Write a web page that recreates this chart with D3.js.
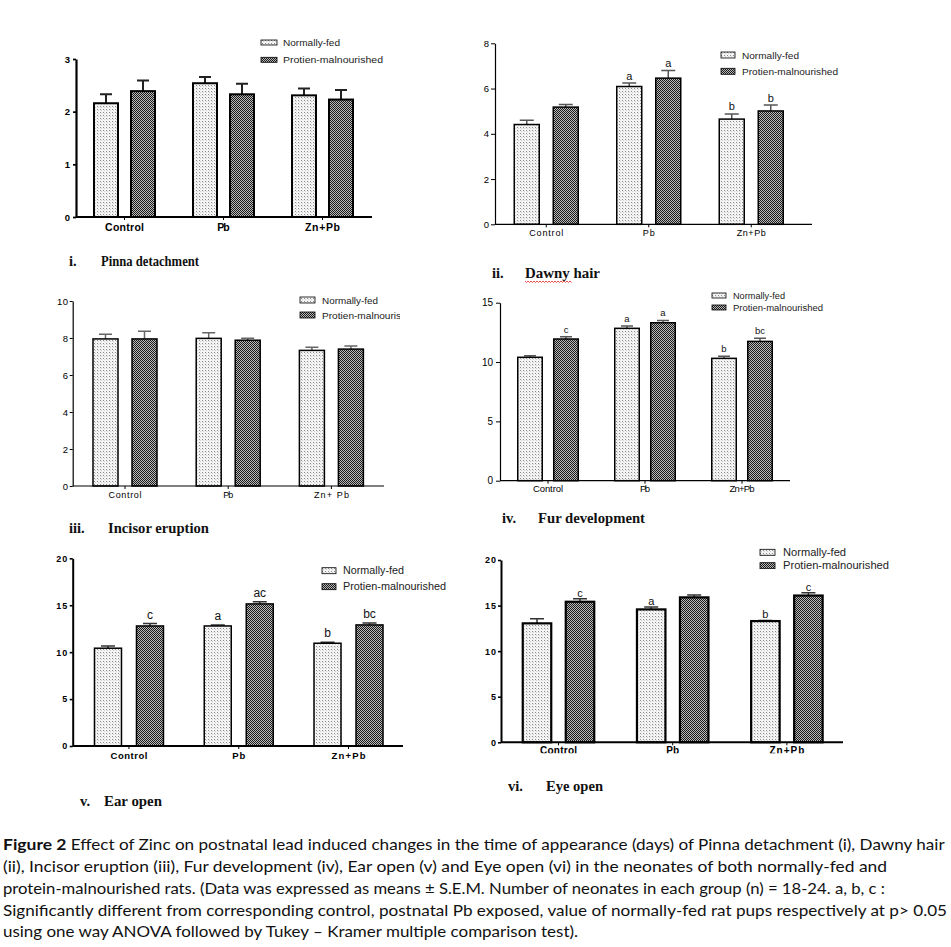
<!DOCTYPE html>
<html><head><meta charset="utf-8">
<script src="https://cdn.jsdelivr.net/npm/d3@7"></script>
<style>body{margin:0;background:#fff}svg{display:block}</style>
</head><body>
<script>
// ---------------- DATA ----------------
const categories = ["Control", "Pb", "Zn+Pb"];
const seriesNames = ["Normally-fed", "Protien-malnourished"];

// i. Pinna detachment
const pinnaNF = [2.16, 2.54, 2.31], pinnaNFErr = [0.17, 0.12, 0.13];
const pinnaPM = [2.39, 2.33, 2.23], pinnaPMErr = [0.20, 0.20, 0.18];
const pinnaTicks = [0, 1, 2, 3];

// ii. Dawny hair
const dawnyNF = [4.41, 6.09, 4.65], dawnyNFErr = [0.19, 0.15, 0.23];
const dawnyPM = [5.18, 6.46, 5.01], dawnyPMErr = [0.11, 0.34, 0.26];
const dawnyNFLetters = ["", "a", "b"], dawnyPMLetters = ["", "a", "b"];
const dawnyTicks = [0, 2, 4, 6, 8];

// iii. Incisor eruption
const incisorNF = [7.95, 7.98, 7.33], incisorNFErr = [0.25, 0.31, 0.17];
const incisorPM = [7.95, 7.88, 7.40], incisorPMErr = [0.41, 0.10, 0.17];
const incisorTicks = [0, 2, 4, 6, 8, 10];
const incisorCatLabels = ["Control", "Pb", "Zn+ Pb"];

// iv. Fur development
const furNF = [10.40, 12.84, 10.31], furNFErr = [0.13, 0.19, 0.17];
const furPM = [11.94, 13.31, 11.74], furPMErr = [0.19, 0.20, 0.26];
const furNFLetters = ["", "a", "b"], furPMLetters = ["c", "a", "bc"];
const furTicks = [0, 5, 10, 15];

// v. Ear open
const earNF = [10.42, 12.79, 10.95], earNFErr = [0.24, 0.11, 0.10];
const earPM = [12.79, 15.14, 12.90], earPMErr = [0.25, 0.24, 0.20];
const earNFLetters = ["", "a", "b"], earPMLetters = ["c", "ac", "bc"];
const earTicks = [0, 5, 10, 15, 20];

// vi. Eye open
const eyeNF = [13.05, 14.58, 13.30], eyeNFErr = [0.50, 0.25, 0.07];
const eyePM = [15.42, 15.90, 16.10], eyePMErr = [0.33, 0.25, 0.30];
const eyeNFLetters = ["", "a", "b"], eyePMLetters = ["c", "", "c"];
const eyeTicks = [0, 5, 10, 15, 20];

const captionLead = "Figure 2";
const captionLines = [
  " Effect of Zinc on postnatal lead induced changes in the time of appearance (days) of Pinna detachment (i), Dawny hair",
  "(ii), Incisor eruption (iii), Fur development (iv), Ear open (v) and Eye open (vi) in the neonates of both normally-fed and",
  "protein-malnourished rats. (Data was expressed as means \u00b1 S.E.M. Number of neonates in each group (n) = 18-24. a, b, c :",
  "Significantly different from corresponding control, postnatal Pb exposed, value of normally-fed rat pups respectively at p> 0.05",
  "using one way ANOVA followed by Tukey \u2013 Kramer multiple comparison test)."
];

// ---------------- LAYOUT ----------------
const FONT = "'Liberation Sans', Arial, sans-serif";
const SERIF = "'Liberation Serif', 'Times New Roman', serif";

const svg = d3.select("body").append("svg").attr("width", 951).attr("height", 947);
const defs = svg.append("defs");

const pNF = defs.append("pattern").attr("id", "nfPat").attr("patternUnits", "userSpaceOnUse").attr("width", 3).attr("height", 3);
pNF.append("rect").attr("width", 3).attr("height", 3).attr("fill", "#f4f4f4");
pNF.append("rect").attr("x", 1).attr("y", 1).attr("width", 1).attr("height", 1).attr("fill", "#8a8a8a");
pNF.append("rect").attr("x", 2).attr("y", 2).attr("width", 1).attr("height", 1).attr("fill", "#cfcfcf");

const pPM = defs.append("pattern").attr("id", "pmPat").attr("patternUnits", "userSpaceOnUse").attr("width", 2).attr("height", 2);
pPM.append("rect").attr("width", 2).attr("height", 2).attr("fill", "#bababa");
pPM.append("rect").attr("x", 0).attr("y", 0).attr("width", 1).attr("height", 1).attr("fill", "#1a1a1a");
pPM.append("rect").attr("x", 1).attr("y", 1).attr("width", 1).attr("height", 1).attr("fill", "#1a1a1a");

function addClip(id, x, y, w, h) {
  defs.append("clipPath").attr("id", id).append("rect").attr("x", x).attr("y", y).attr("width", w).attr("height", h);
  return `url(#${id})`;
}

function panel(cfg) {
  const g = svg.append("g");
  const y = d3.scaleLinear().domain([0, cfg.yMax]).range([cfg.y0, cfg.yTop]);
  const x = d3.scaleBand().domain(categories).range([cfg.gx0, cfg.gx1]).padding(0);
  const s = d3.scalePoint().domain(seriesNames).range([-cfg.off, cfg.off]);
  const rows = categories.flatMap((c, i) => [
    { c, s: seriesNames[0], v: cfg.nf[i], e: cfg.nfErr[i], l: (cfg.nfLet || [])[i] || "", fill: "url(#nfPat)" },
    { c, s: seriesNames[1], v: cfg.pm[i], e: cfg.pmErr[i], l: (cfg.pmLet || [])[i] || "", fill: "url(#pmPat)" }
  ]);
  const cx = d => x(d.c) + x.bandwidth() / 2 + s(d.s);

  // error bars (upper only)
  g.append("g").attr("stroke", cfg.errColor).attr("stroke-width", cfg.errStroke).attr("fill", "none")
    .selectAll("path").data(rows).join("path")
    .attr("d", d => `M${cx(d)},${y(d.v)}V${y(d.v + d.e)}M${cx(d) - cfg.capW / 2},${y(d.v + d.e)}H${cx(d) + cfg.capW / 2}`);

  // bars
  g.append("g").selectAll("rect").data(rows).join("rect")
    .attr("x", d => cx(d) - cfg.barW / 2).attr("y", d => y(d.v))
    .attr("width", cfg.barW).attr("height", d => y(0) - y(d.v))
    .attr("fill", d => d.fill).attr("stroke", "#000").attr("stroke-width", cfg.barStroke);

  // significance letters
  g.append("g").selectAll("text").data(rows.filter(d => d.l)).join("text")
    .attr("x", cx).attr("y", d => y(d.v + d.e) - cfg.letOff)
    .attr("text-anchor", "middle").attr("dominant-baseline", "central")
    .attr("font-family", FONT).attr("font-size", cfg.letFs).attr("fill", "#111").text(d => d.l);

  // y axis
  const ya = g.append("g").attr("transform", `translate(${cfg.ax0},0)`)
    .call(d3.axisLeft(y).tickValues(cfg.ticks).tickFormat(d3.format("d"))
      .tickSize(cfg.tickLen).tickSizeOuter(0).tickPadding(cfg.tickPad));
  ya.attr("font-family", FONT).attr("font-size", cfg.tickFs).attr("font-weight", cfg.bold ? "bold" : "normal");
  ya.select(".domain").attr("stroke", "#000").attr("stroke-width", cfg.axisStroke);
  ya.selectAll(".tick line").attr("stroke", "#000").attr("stroke-width", Math.max(1, cfg.axisStroke * 0.8));
  ya.selectAll(".tick text").attr("fill", "#000").attr("letter-spacing", cfg.tickLs || 0);

  // x axis line
  g.append("line").attr("x1", cfg.ax0).attr("x2", cfg.ax1).attr("y1", y(0)).attr("y2", y(0))
    .attr("stroke", "#000").attr("stroke-width", cfg.axisStroke);

  // x axis ticks + labels (wrapped so that an optional clip is in page coordinates)
  const xwrap = g.append("g");
  if (cfg.catClip) xwrap.attr("clip-path", cfg.catClip);
  const xa = xwrap.append("g").attr("transform", `translate(0,${y(0)})`)
    .call(d3.axisBottom(x).tickSize(3).tickSizeOuter(0));
  xa.attr("font-family", FONT).attr("font-size", cfg.catFs).attr("font-weight", cfg.bold ? "bold" : "normal");
  xa.select(".domain").remove();
  xa.selectAll(".tick line").attr("stroke", "#000").attr("stroke-width", 1);
  xa.selectAll(".tick text")
    .text((d, i) => cfg.catLabels ? cfg.catLabels[i] : d)
    .attr("y", cfg.catY - cfg.y0).attr("dy", null).attr("dominant-baseline", "central")
    .attr("fill", "#000")
    .attr("textLength", (d, i) => cfg.catLen[i]).attr("lengthAdjust", "spacing");

  // legend
  const lg = g.append("g");
  if (cfg.lg.clip) lg.attr("clip-path", cfg.lg.clip);
  seriesNames.forEach((nm, i) => {
    const cy = i ? cfg.lg.y2 : cfg.lg.y1;
    lg.append("rect").attr("x", cfg.lg.x).attr("y", cy - cfg.lg.h / 2)
      .attr("width", cfg.lg.w).attr("height", cfg.lg.h)
      .attr("fill", i ? "url(#pmPat)" : "url(#nfPat)").attr("stroke", "#000").attr("stroke-width", 0.8);
    lg.append("text").attr("x", cfg.lg.tx).attr("y", cy).attr("dominant-baseline", "central")
      .attr("font-family", FONT).attr("font-size", cfg.lg.fs).attr("fill", "#222")
      .attr("textLength", cfg.lg.len[i]).attr("lengthAdjust", "spacingAndGlyphs").text(nm);
  });

  // title
  const t = cfg.title;
  g.append("text").attr("x", t.nx).attr("y", t.base).attr("font-family", SERIF).attr("font-weight", "bold")
    .attr("font-size", 14.5).attr("fill", "#111").text(t.num);
  g.append("text").attr("x", t.tx).attr("y", t.base).attr("font-family", SERIF).attr("font-weight", "bold")
    .attr("font-size", 14.5).attr("fill", "#111")
    .attr("textLength", t.len).attr("lengthAdjust", "spacingAndGlyphs").text(t.text);
  if (t.wavy) {
    const [x0, x1, wy] = t.wavy;
    const pts = d3.range(x0, x1, 1.5).map((px, k) => [px, wy + (k % 2 ? 1 : -0.5)]);
    g.append("path").attr("d", d3.line()(pts)).attr("fill", "none").attr("stroke", "#e02020").attr("stroke-width", 0.8);
  }
}

panel({
  nf: pinnaNF, nfErr: pinnaNFErr, pm: pinnaPM, pmErr: pinnaPMErr,
  yMax: 3, ticks: pinnaTicks, y0: 217, yTop: 59, ax0: 76, ax1: 372, gx0: 75, gx1: 372,
  off: 18.5, barW: 24, capW: 12, barStroke: 2, axisStroke: 2.2, errColor: "#222", errStroke: 2,
  tickFs: 9.5, bold: true, tickLen: 3, tickPad: 3, catY: 227, catFs: 10.5, catLen: [39, 12.5, 35],
  lg: { x: 261, y1: 42.5, y2: 59.8, w: 16, h: 5, tx: 283, fs: 9.5, len: [57, 100] },
  title: { num: "i.", nx: 69, text: "Pinna detachment", tx: 101, base: 266, len: 98 }
});

panel({
  nf: dawnyNF, nfErr: dawnyNFErr, pm: dawnyPM, pmErr: dawnyPMErr, nfLet: dawnyNFLetters, pmLet: dawnyPMLetters,
  yMax: 8, ticks: dawnyTicks, y0: 224.3, yTop: 43.3, ax0: 495, ax1: 812, gx0: 495, gx1: 802.5,
  off: 19.5, barW: 25, capW: 14, barStroke: 1.5, axisStroke: 1.2, errColor: "#555", errStroke: 1.5,
  letFs: 11, letOff: 7.5,
  tickFs: 9.5, bold: false, tickLen: 4, tickPad: 2, catY: 233, catFs: 9, catLen: [34, 12, 29],
  lg: { x: 721, y1: 55, y2: 71.3, w: 14, h: 6, tx: 742, fs: 9.5, len: [57, 96] },
  title: { num: "ii.", nx: 492, text: "Dawny hair", tx: 525, base: 278, len: 75, wavy: [525, 573, 281.5] }
});

panel({
  nf: incisorNF, nfErr: incisorNFErr, pm: incisorPM, pmErr: incisorPMErr,
  yMax: 10, ticks: incisorTicks, y0: 486, yTop: 301, ax0: 72.7, ax1: 384, gx0: 73.4, gx1: 383,
  off: 19.5, barW: 25, capW: 13, barStroke: 1.5, axisStroke: 1.2, errColor: "#666", errStroke: 1.5,
  tickFs: 9.5, tickLs: 0.6, bold: false, tickLen: 3, tickPad: 1, catY: 495, catFs: 9, catLen: [33, 10, 35],
  catLabels: incisorCatLabels,
  lg: { x: 300, y1: 300, y2: 315, w: 15, h: 6, tx: 322, fs: 9.5, len: [56, 96], clip: addClip("clipIII", 0, 280, 400, 60) },
  title: { num: "iii.", nx: 69, text: "Incisor eruption", tx: 108, base: 533, len: 101 }
});

panel({
  nf: furNF, nfErr: furNFErr, pm: furPM, pmErr: furPMErr, nfLet: furNFLetters, pmLet: furPMLetters,
  yMax: 15, ticks: furTicks, y0: 480.7, yTop: 302.7, ax0: 500, ax1: 790, gx0: 499.5, gx1: 790.5,
  off: 18, barW: 24.5, capW: 12, barStroke: 1.5, axisStroke: 1.2, errColor: "#555", errStroke: 1.5,
  letFs: 9.5, letOff: 7.7,
  tickFs: 10, bold: false, tickLen: 4, tickPad: 3, catY: 488.3, catFs: 9.5, catLen: [30, 10, 25],
  lg: { x: 712, y1: 295.5, y2: 307.5, w: 14, h: 5, tx: 733, fs: 8.5, len: [52, 90] },
  title: { num: "iv.", nx: 502, text: "Fur development", tx: 538, base: 523, len: 107 }
});

panel({
  nf: earNF, nfErr: earNFErr, pm: earPM, pmErr: earPMErr, nfLet: earNFLetters, pmLet: earPMLetters,
  yMax: 20, ticks: earTicks, y0: 746, yTop: 558.3, ax0: 72.7, ax1: 403, gx0: 74.1, gx1: 403.4,
  off: 21, barW: 27, capW: 14, barStroke: 1.5, axisStroke: 2, errColor: "#333", errStroke: 1.5,
  letFs: 12, letOff: 9,
  tickFs: 9, tickLs: 1, bold: true, tickLen: 3, tickPad: 1.5, catY: 755.7, catFs: 9.5, catLen: [37, 13, 34],
  lg: { x: 322, y1: 570.7, y2: 586.7, w: 14, h: 6, tx: 343, fs: 10, len: [61, 103] },
  title: { num: "v.", nx: 80, text: "Ear open", tx: 104, base: 806, len: 58 }
});

panel({
  nf: eyeNF, nfErr: eyeNFErr, pm: eyePM, pmErr: eyePMErr, nfLet: eyeNFLetters, pmLet: eyePMLetters,
  yMax: 20, ticks: eyeTicks, y0: 742.3, yTop: 560, ax0: 501, ax1: 843, gx0: 501.4, gx1: 844,
  off: 21.5, barW: 28.5, capW: 14, barStroke: 2.2, axisStroke: 2, errColor: "#333", errStroke: 1.5,
  letFs: 11, letOff: 6,
  tickFs: 9, tickLs: 1, bold: true, tickLen: 3, tickPad: 1, catY: 751, catFs: 10, catLen: [37, 13, 35],
  catClip: addClip("clipVIcat", 480, 700, 420, 53.3),
  lg: { x: 760, y1: 552.3, y2: 565.7, w: 15, h: 6, tx: 783, fs: 10, len: [63, 106], clip: addClip("clipVIlg", 700, 530, 251, 39) },
  title: { num: "vi.", nx: 508, text: "Eye open", tx: 546, base: 791, len: 57 }
});

// ---------------- CAPTION ----------------
const CAP = "Lato, 'Open Sans', sans-serif";
const capBase = [850, 872, 894, 915.5, 937];
const capX = [70.7, 3, 3, 3, 3];
const capLen = [874, 884, 882, 944, 575];
svg.append("text").attr("x", 3).attr("y", capBase[0]).attr("font-family", CAP).attr("font-weight", "bold")
  .attr("font-size", 15).attr("fill", "#111").attr("textLength", 63.5).attr("lengthAdjust", "spacingAndGlyphs")
  .text(captionLead);
svg.append("g").selectAll("text").data(captionLines).join("text")
  .attr("x", (d, i) => capX[i]).attr("y", (d, i) => capBase[i])
  .attr("font-family", CAP).attr("font-size", 15).attr("fill", "#111")
  .attr("textLength", (d, i) => capLen[i]).attr("lengthAdjust", "spacingAndGlyphs")
  .text(d => d.trimStart());
</script>
</body></html>
